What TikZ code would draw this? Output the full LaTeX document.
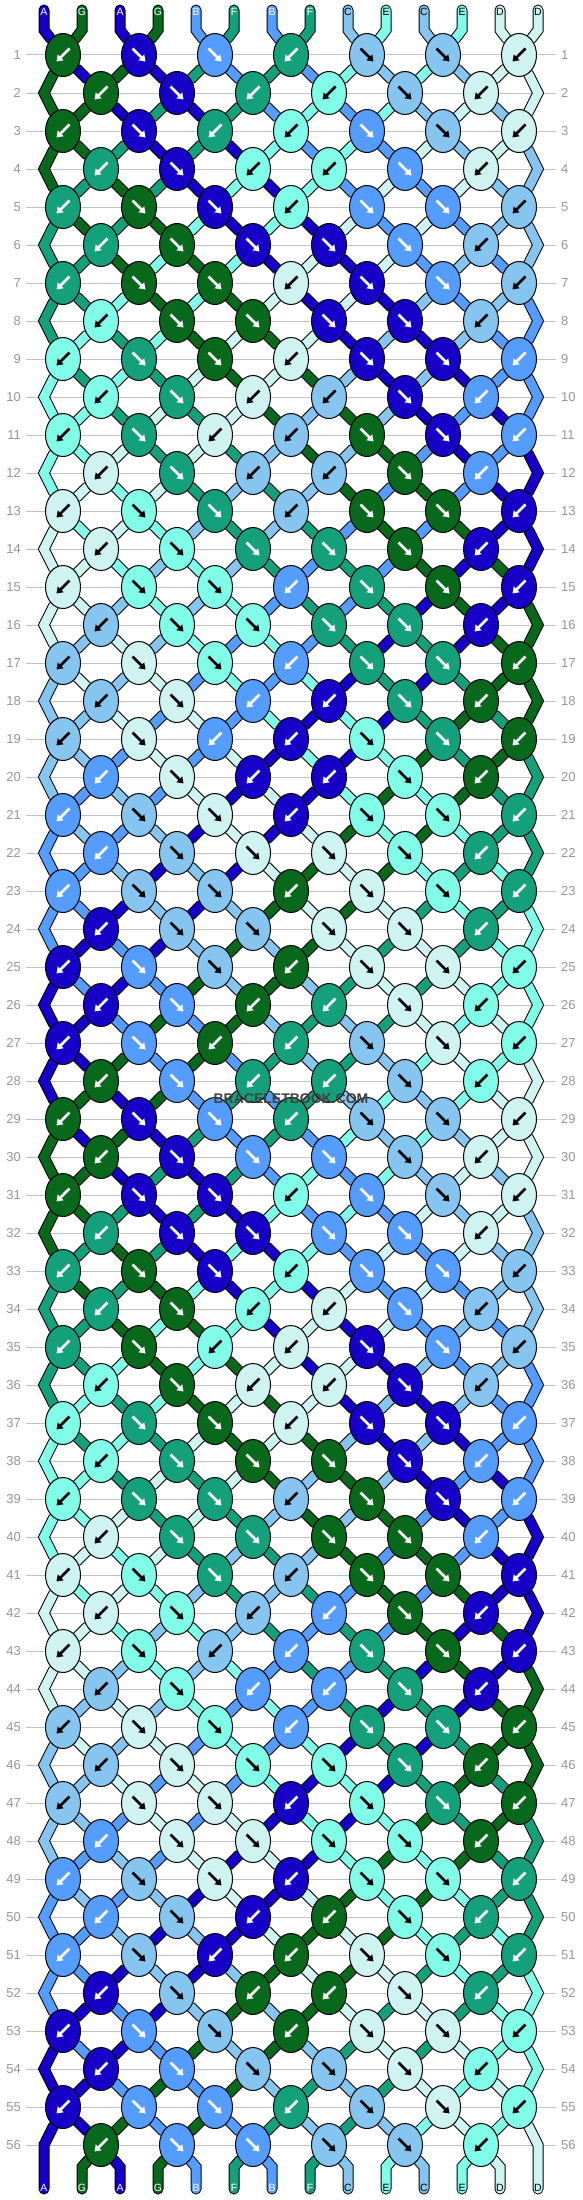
\documentclass[tikz,border=0pt]{standalone}
\usepackage{fontspec}
\setmainfont{Liberation Sans}
\usetikzlibrary{shapes.geometric, arrows.meta}

\definecolor{colA}{RGB}{22,0,200}
\definecolor{colG}{RGB}{8,104,28}
\definecolor{colB}{RGB}{85,156,255}
\definecolor{colF}{RGB}{21,160,124}
\definecolor{colC}{RGB}{134,197,240}
\definecolor{colE}{RGB}{128,252,233}
\definecolor{colD}{RGB}{206,243,241}
\definecolor{gridgray}{RGB}{192,192,192}
\definecolor{numgray}{RGB}{150,150,150}

% arrow / label colour on each thread
\def\arrA{white}\def\arrG{white}\def\arrB{white}\def\arrF{white}
\def\arrC{black}\def\arrE{black}\def\arrD{black}

\pgfdeclarelayer{threads}
\pgfsetlayers{threads,main}

\newcommand\setS[2]{\expandafter\xdef\csname s#1\endcsname{#2}}
\newcommand\getS[1]{\csname s#1\endcsname}

% node that holds position #2 in row #1
\newcommand\posnode[2]{%
  \ifodd#1\relax
    \pgfmathtruncatemacro\kk{ceil(#2/2)}\edef\pn{k-#1-\kk}%
  \else
    \ifnum#2=1\relax\edef\pn{e-#1-1}%
    \else\ifnum#2=14\relax\edef\pn{e-#1-14}%
    \else\pgfmathtruncatemacro\kk{floor(#2/2)}\edef\pn{k-#1-\kk}\fi\fi
  \fi}

% knots row by row (b = backward, f = forward)
\def\knotX{b,f,f,b,f,f,b}\def\knotY{b,f,b,b,f,b}
\def\knotZ{b,f,b,b,f,f,b}\def\knotW{b,f,f,f,f,b}
\def\knotrows{X,Y,Z,Y,X,W,X,W,X,Y,Z,Y,X,W,X,W,X,Y,Z,Y,X,W,X,W,X,Y,Z,Y,
  X,W,X,W,X,Y,Z,Y,X,W,X,W,X,Y,Z,Y,X,W,X,W,X,Y,Z,Y,X,W,X,W}

% follow the threads through the knots
\foreach \ch [count=\pp] in {A,G,A,G,B,F,B,F,C,E,C,E,D,D}{%
  \setS{\pp}{\ch}\expandafter\xdef\csname c0-\pp\endcsname{\ch}}
\foreach \kind [count=\rw] in \knotrows {%
  \edef\pat{\csname knot\kind\endcsname}%
  \foreach \kt [count=\kn] in \pat {%
    \ifodd\rw\relax\pgfmathtruncatemacro\pp{2*\kn-1}\else\pgfmathtruncatemacro\pp{2*\kn}\fi
    \pgfmathtruncatemacro\qq{\pp+1}%
    \edef\lft{\getS{\pp}}\edef\rgt{\getS{\qq}}%
    \if b\kt\expandafter\xdef\csname kc\rw-\kn\endcsname{\rgt}%
    \else\expandafter\xdef\csname kc\rw-\kn\endcsname{\lft}\fi
    \expandafter\xdef\csname kt\rw-\kn\endcsname{\kt}%
    \setS{\pp}{\rgt}\setS{\qq}{\lft}%
  }%
  \foreach \pp in {1,...,14}{\expandafter\xdef\csname c\rw-\pp\endcsname{\getS{\pp}}}%
}

\tikzset{thread/.code={%
  \ifnum\layerpass=0 \pgfkeysalso{draw=black,line width=11pt,line cap=round}%
  \else\pgfkeysalso{draw=col#1,line width=9pt,line cap=round}\fi}}

\begin{document}
\begin{tikzpicture}[x=1pt, y=-1pt,
    knot/.style={ellipse, draw=black, line width=1pt, minimum width=35pt, minimum height=43pt, inner sep=0pt},
    knotarrow/.style={line width=2.6pt, -{Triangle[length=6pt,width=8pt]}},
    rownum/.style={text=numgray, font=\fontsize{13}{13}\selectfont, inner sep=0pt},
    threadlabel/.style={font=\fontsize{10.5}{10.5}\selectfont, inner sep=0pt},
    gridline/.style={draw=gridgray, line width=1pt},
    watermark/.style={text=black!75, font=\bfseries\fontsize{14}{14}\selectfont, inner sep=0pt}]

  \useasboundingbox (0,0) rectangle (582,2200);

  % thread ends and labels
  \foreach \ch [count=\pp] in {A,G,A,G,B,F,B,F,C,E,C,E,D,D}{
    \pgfmathsetmacro\xx{44+38*(\pp-1)}
    \edef\lc{\csname arr\ch\endcsname}
    \coordinate (t-\pp) at (\xx,10);
    \coordinate (tb-\pp) at (\xx,30);
    \coordinate (bb-\pp) at (\xx,2167);
    \coordinate (b-\pp) at (\xx,2189);
    \node[threadlabel, text=\lc] (lt-\pp) at (\xx,12) {\ch};
    \node[threadlabel, text=\lc] (lb-\pp) at (\xx,2188) {\ch};
  }

  % knots
  \foreach \rw in {1,...,56}{
    \pgfmathsetmacro\yy{55+38*(\rw-1)}
    \ifodd\rw
      \def\nk{7}\def\xo{63}
    \else
      \def\nk{6}\def\xo{101}
      \coordinate (e-\rw-1) at (44,\yy);
      \coordinate (e-\rw-14) at (538,\yy);
    \fi
    \foreach \kn in {1,...,\nk}{
      \edef\cc{\csname kc\rw-\kn\endcsname}
      \edef\ac{\csname arr\cc\endcsname}
      \node[knot, fill=col\cc] (k-\rw-\kn) at ({\xo+76*(\kn-1)},\yy) {};
      \if b\csname kt\rw-\kn\endcsname
        \draw[knotarrow, draw=\ac] ([shift={(6.5,-6.5)}]k-\rw-\kn.center) -- ([shift={(-6.5,6.5)}]k-\rw-\kn.center);
      \else
        \draw[knotarrow, draw=\ac] ([shift={(-6.5,-6.5)}]k-\rw-\kn.center) -- ([shift={(6.5,6.5)}]k-\rw-\kn.center);
      \fi
    }
    \node[rownum, anchor=east] (nl-\rw) at (21,\yy) {\rw};
    \node[rownum, anchor=west] (nr-\rw) at (561,\yy) {\rw};
  }

  \node[watermark] (wm) at (291,1099) {BRACELETBOOK.COM};

  \begin{pgfonlayer}{threads}
    \fill[white] (0,0) rectangle (582,2200);
    \foreach \rw in {1,...,56}{
      \draw[gridline] (nl-\rw.east) ++(5,0) -- ([xshift=-5pt]nr-\rw.west);
    }
    % outline first, then colour
    \foreach \layerpass in {0,1}{
      % top
      \foreach \pp in {1,...,14}{
        \pgfmathtruncatemacro\kk{ceil(\pp/2)}
        \edef\cc{\csname c0-\pp\endcsname}
        \draw[thread=\cc] (t-\pp) -- (tb-\pp) -- (k-1-\kk);
      }
      % between rows
      \foreach \rw in {1,...,55}{
        \pgfmathtruncatemacro\nx{\rw+1}
        \foreach \pp in {2,...,13}{
          \posnode{\rw}{\pp}\let\fromnode\pn
          \posnode{\nx}{\pp}\let\tonode\pn
          \edef\cc{\csname c\rw-\pp\endcsname}
          \draw[thread=\cc] (\fromnode) -- (\tonode);
        }
      }
      % edges
      \foreach \rw in {2,4,...,56}{
        \pgfmathtruncatemacro\pv{\rw-1}
        \pgfmathtruncatemacro\nx{\rw+1}
        \foreach \pp in {1,14}{
          \edef\cc{\csname c\pv-\pp\endcsname}
          \ifnum\rw<56 \posnode{\nx}{\pp}\let\tonode\pn
          \else \edef\tonode{b-\pp}\fi
          \posnode{\pv}{\pp}\let\fromnode\pn
          \draw[thread=\cc] (\fromnode) -- (e-\rw-\pp) -- (\tonode);
        }
      }
      % bottom
      \foreach \pp in {2,...,13}{
        \pgfmathtruncatemacro\kk{floor(\pp/2)}
        \edef\cc{\csname c56-\pp\endcsname}
        \draw[thread=\cc] (k-56-\kk) -- (bb-\pp) -- (b-\pp);
      }
    }
  \end{pgfonlayer}
\end{tikzpicture}
\end{document}
